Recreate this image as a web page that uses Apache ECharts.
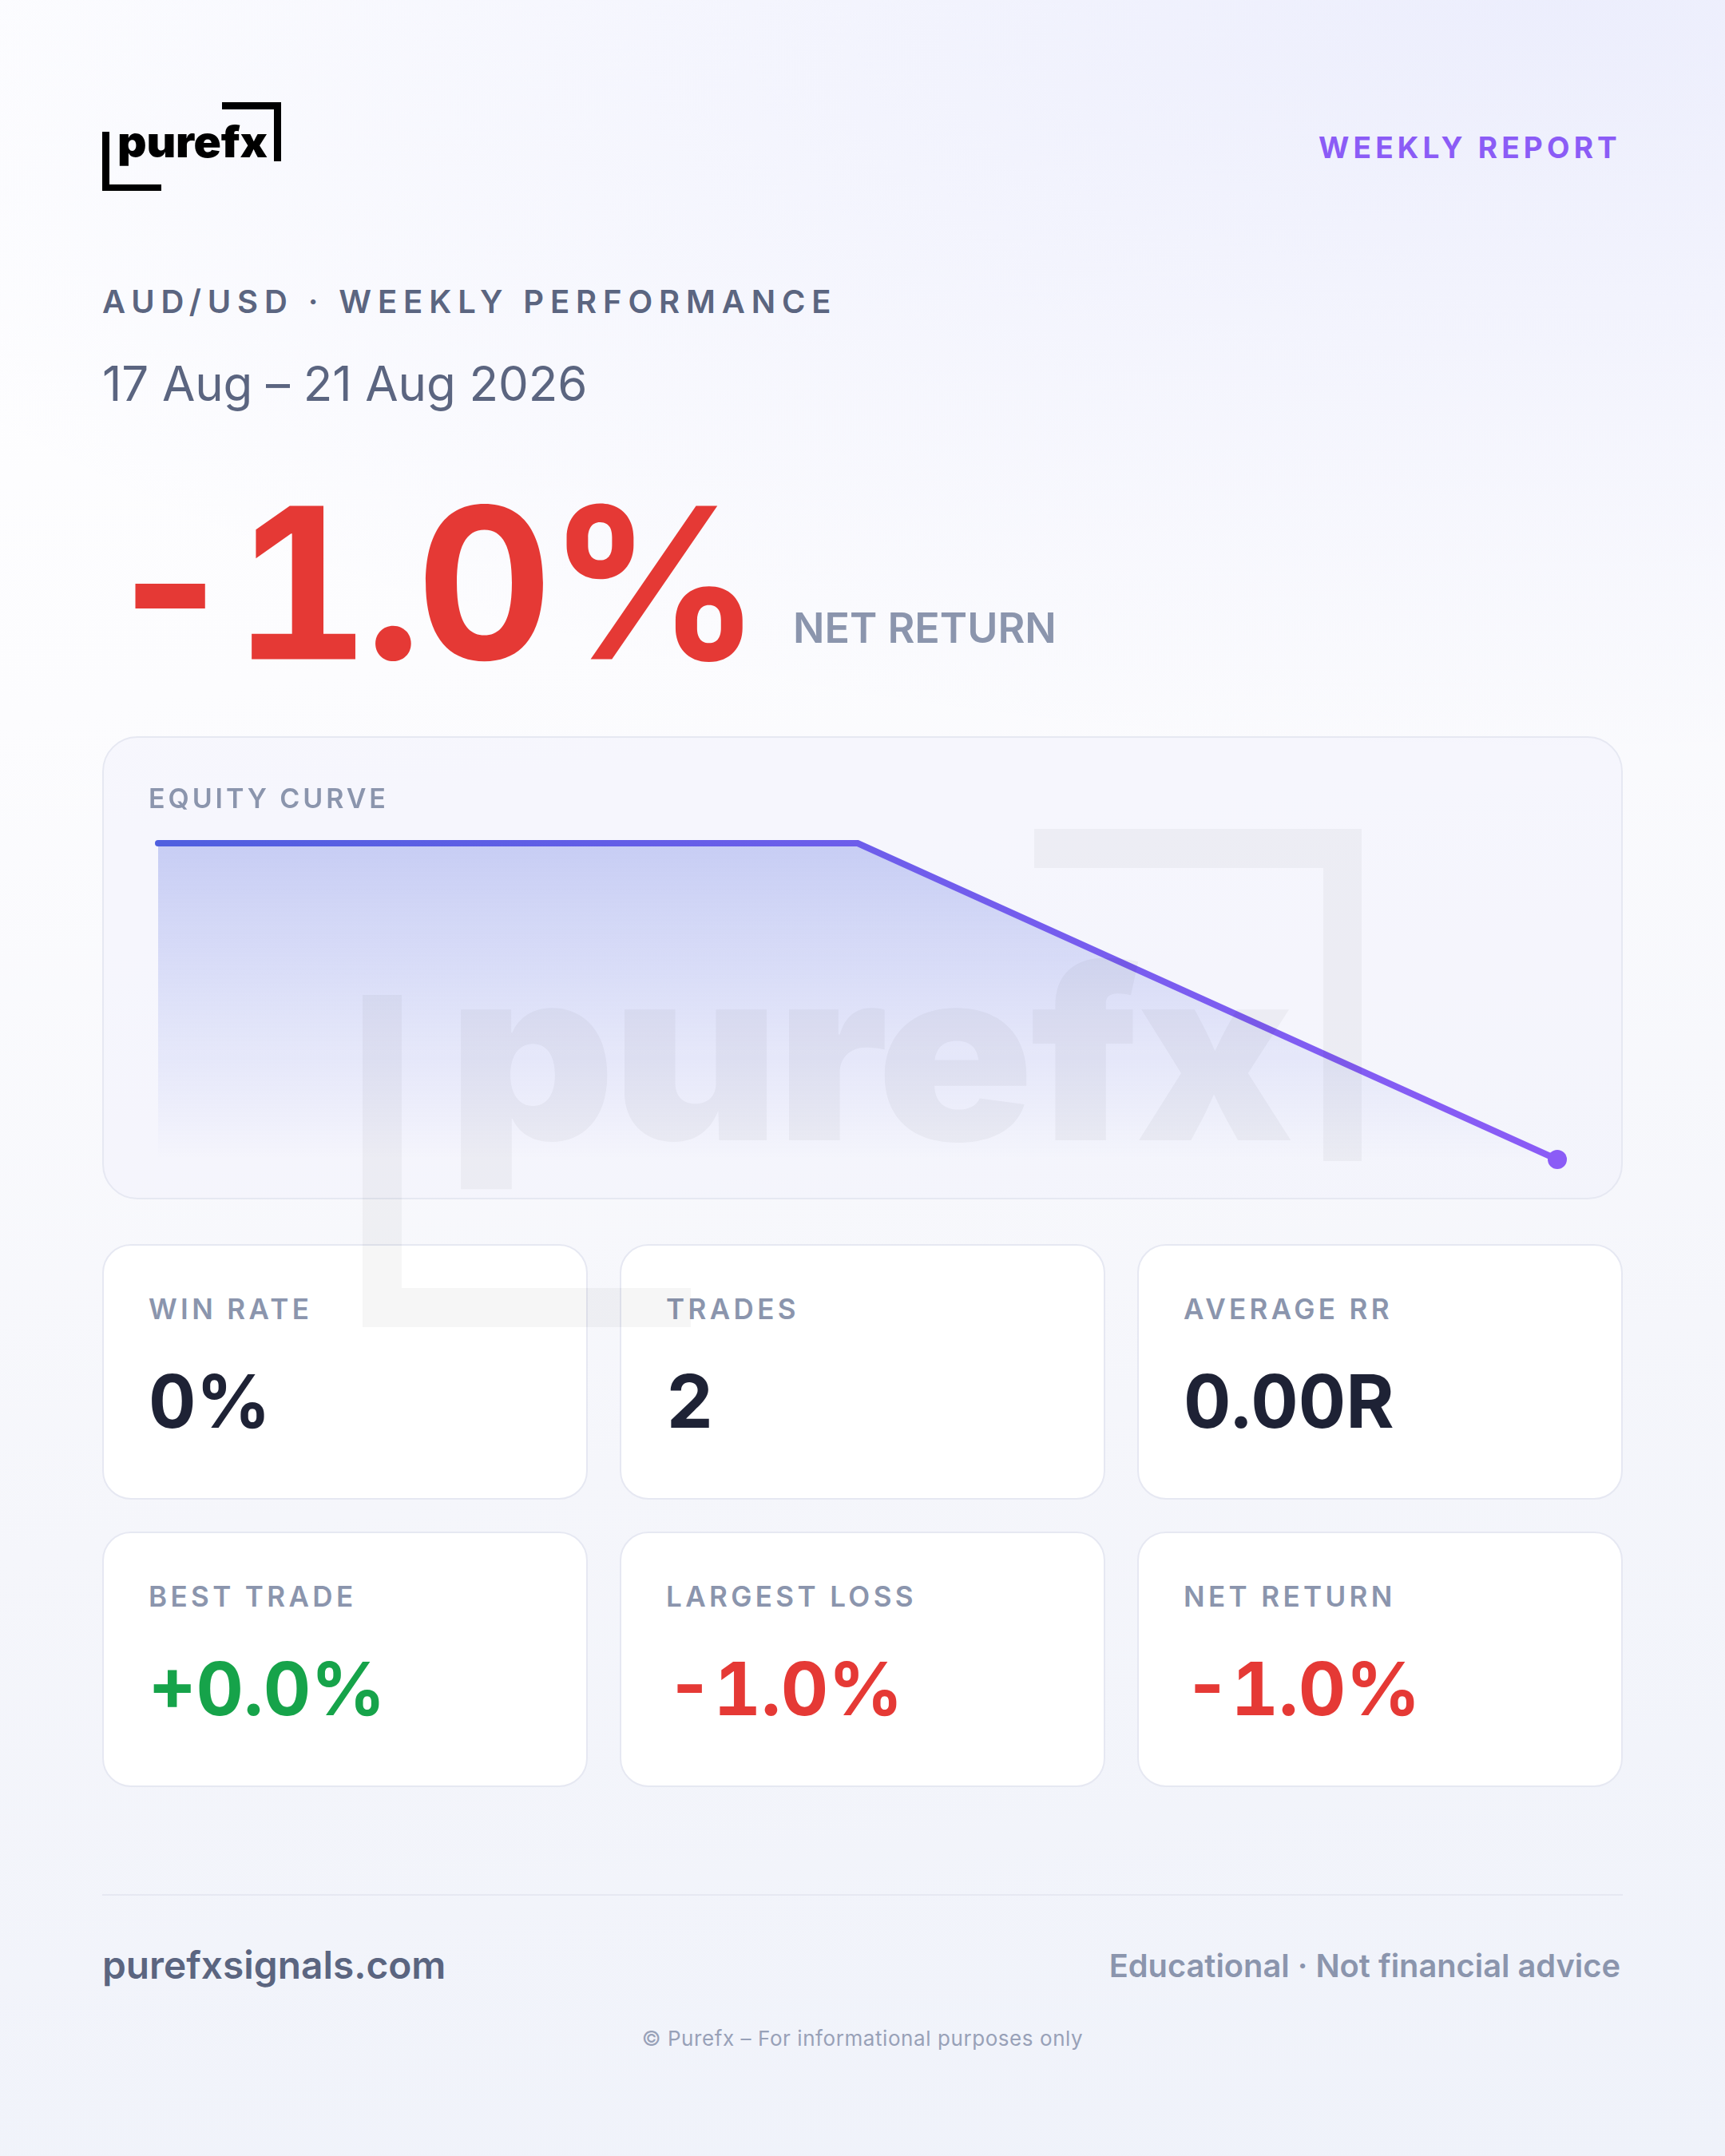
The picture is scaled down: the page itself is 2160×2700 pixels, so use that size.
<!DOCTYPE html>
<html>
<head>
<meta charset="utf-8">
<title>Purefx weekly report</title>
<script src="https://cdn.jsdelivr.net/npm/echarts@6/dist/echarts.min.js"></script>
<style>
  html, body { margin: 0; padding: 0; }
  body {
    width: 2160px; height: 2700px; overflow: hidden; position: relative;
    font-family: Inter, sans-serif;
    background:
      radial-gradient(ellipse 2400px 950px at 90% 0%, rgba(90,105,235,0.11), rgba(90,105,235,0) 100%),
      linear-gradient(172deg, #ffffff 0%, #fcfcfe 30%, #f5f6fb 65%, #eff2fa 100%);
  }
  .t { position: absolute; white-space: nowrap; transform: translateY(-50%); line-height: 1.2; }
  .card { position: absolute; box-sizing: border-box; background: #fff; border: 2px solid #e6e8f2; border-radius: 36px; }
  .label { font-size: 35px; font-weight: 600; letter-spacing: 0.125em; color: #8b95ad; }
  .value { font-size: 92px; font-weight: 700; letter-spacing: 0; font-variant-numeric: tabular-nums; }
  #chartCard { left: 128px; top: 922px; width: 1904px; height: 580px; background: rgba(238,240,252,0.38); border-radius: 44px; }
  #chart { position: absolute; left: 128px; top: 922px; width: 1904px; height: 580px; }
  .logo { position: absolute; }
  .wm { position: absolute; left: 0; top: 0; width: 2160px; height: 2700px; pointer-events: none; opacity: 0.035; }
  .wm i { position: absolute; display: block; background: #000; }
  .brand { position: absolute; white-space: nowrap; font-weight: 900; color: #000; line-height: 1; transform-origin: left top; transform: scaleX(1.05); }
</style>
</head>
<body>
<div class="card" id="chartCard"></div>
<div id="chart"></div>
<div id="cards"></div>

<!-- logo -->
<i class="logo" style="left:128px;top:165px;width:9px;height:74px;background:#000"></i>
<i class="logo" style="left:128px;top:231px;width:74px;height:8px;background:#000"></i>
<i class="logo" style="left:278px;top:128px;width:74px;height:9px;background:#000"></i>
<i class="logo" style="left:343px;top:128px;width:9px;height:74px;background:#000"></i>
<div class="brand" style="left:147px;top:151px;font-size:54px;letter-spacing:-0.2px">purefx</div>

<div class="t" style="right:130px;top:185px;font-size:37px;font-weight:700;letter-spacing:0.14em;color:#8b5cf6">WEEKLY REPORT</div>
<div class="t" style="left:128px;top:378px;font-size:40px;font-weight:600;letter-spacing:0.197em;color:#5b6580">AUD/USD · WEEKLY PERFORMANCE</div>
<div class="t" style="left:128px;top:480px;font-size:60px;font-weight:400;letter-spacing:-0.1px;color:#5b6580">17 Aug – 21 Aug 2026</div>
<div class="t" style="left:128px;top:730px;font-size:264px;font-weight:700;letter-spacing:-0.024em;font-variant-numeric:tabular-nums;color:#e53935">-1.0%</div>
<div class="t" style="left:993px;top:787px;font-size:52px;font-weight:600;color:#8b95ad">NET RETURN</div>
<div class="t label" style="left:186px;top:1000px;font-size:34px;letter-spacing:0.115em">EQUITY CURVE</div>

<div style="position:absolute;left:128px;top:2372px;width:1904px;height:2px;background:#e6e8f2"></div>
<div class="t" style="left:128px;top:2462px;font-size:47.8px;font-weight:600;color:#5b6580">purefxsignals.com</div>
<div class="t" style="right:131px;top:2462px;font-size:39.8px;font-weight:600;color:#8b95ad">Educational · Not financial advice</div>
<div class="t" style="left:0;width:2160px;text-align:center;top:2553px;font-size:26px;font-weight:400;letter-spacing:0.022em;color:#98a1b8">© Purefx – For informational purposes only</div>

<!-- watermark sits above the cards -->
<div class="wm">
  <i style="left:454px;top:1246px;width:49px;height:416px"></i>
  <i style="left:454px;top:1613px;width:411px;height:49px"></i>
  <i style="left:1295px;top:1038px;width:410px;height:49px"></i>
  <i style="left:1657px;top:1038px;width:48px;height:416px"></i>
  <div class="brand" style="left:561px;top:1169px;font-size:300px;letter-spacing:-4px;transform:scaleX(1.08)">purefx</div>
</div>

<script>
// equity curve, cumulative return in %
const points = ['Start', 'Trade 1', 'Trade 2']
const equity = [0, 0, -1.0]
const yMin = -1
const yMax = 0

// stat cards
const statLabels = ['WIN RATE', 'TRADES', 'AVERAGE RR', 'BEST TRADE', 'LARGEST LOSS', 'NET RETURN']
const statValues = ['0%', '2', '0.00R', '+0.0%', '-1.0%', '-1.0%']
const statColors = ['#1e2235', '#1e2235', '#1e2235', '#16a34a', '#e53935', '#e53935']

const colX = [128, 776, 1424]
const rowY = [1558, 1918]
document.getElementById('cards').innerHTML = statLabels.map((label, i) => {
  const x = colX[i % 3]
  const y = rowY[Math.floor(i / 3)]
  return `
    <div class="card" style="left:${x}px;top:${y}px;width:608px;height:320px"></div>
    <div class="t label" style="left:${x + 58}px;top:${y + 81}px">${label}</div>
    <div class="t value" style="left:${x + 58}px;top:${y + 197}px;color:${statColors[i]}">${statValues[i]}</div>
  `
}).join('')

const myChart = echarts.init(document.getElementById('chart'), null, { renderer: 'canvas' })
myChart.setOption({
  animation: false,
  backgroundColor: 'transparent',
  grid: { left: 70, right: 82, top: 134, bottom: 50, containLabel: false },
  xAxis: { type: 'category', data: points, boundaryGap: false, show: false },
  yAxis: { type: 'value', min: yMin, max: yMax, show: false },
  series: [{
    type: 'line',
    data: equity,
    clip: false,
    showSymbol: true,
    showAllSymbol: true,
    symbol: 'circle',
    symbolSize: (v, p) => (p.dataIndex === equity.length - 1 ? 24 : 0),
    itemStyle: { color: '#8b5cf6' },
    lineStyle: {
      width: 8,
      cap: 'round',
      join: 'miter',
      color: new echarts.graphic.LinearGradient(0, 0, 1, 0, [
        { offset: 0, color: '#4f5fdf' },
        { offset: 1, color: '#8b5cf6' }
      ])
    },
    areaStyle: {
      origin: 'start',
      opacity: 1,
      color: new echarts.graphic.LinearGradient(0, 0, 0, 1, [
        { offset: 0, color: 'rgba(79,100,223,0.28)' },
        { offset: 1, color: 'rgba(79,100,223,0)' }
      ])
    }
  }]
})
</script>
</body>
</html>
